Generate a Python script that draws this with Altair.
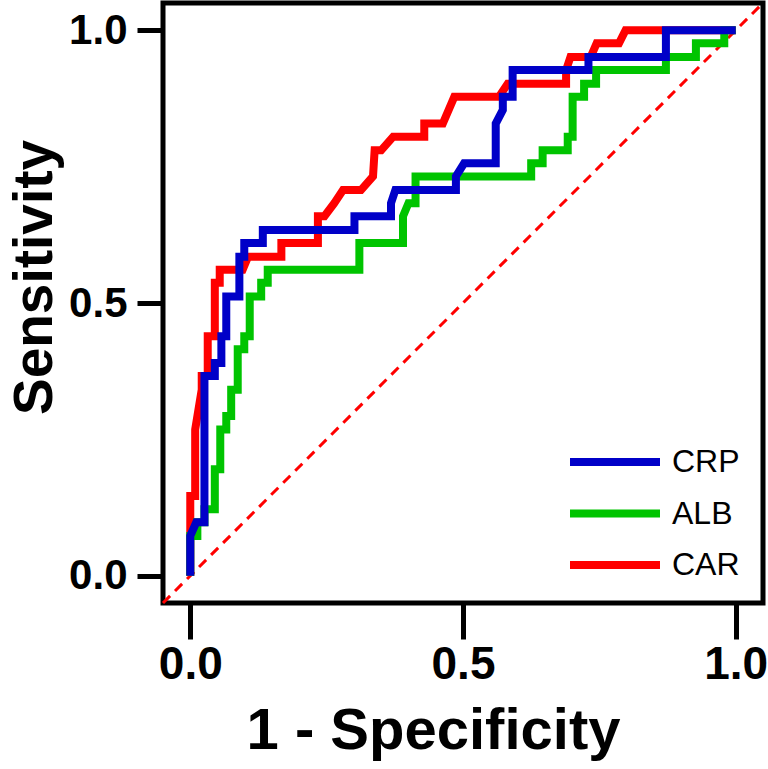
import altair as alt
import pandas as pd

# ROC curve vertices (1 - specificity, sensitivity) for each marker
crp_fpr = [0.0, 0.0, 0.011, 0.026, 0.026, 0.045, 0.045, 0.057, 0.057, 0.066, 0.066, 0.090,
           0.090, 0.099, 0.099, 0.133, 0.133, 0.301, 0.301, 0.368, 0.368, 0.376, 0.487,
           0.487, 0.502, 0.560, 0.560, 0.573, 0.573, 0.591, 0.591, 0.730, 0.730, 0.872,
           0.872, 1.0]
crp_tpr = [0.0, 0.073, 0.098, 0.098, 0.366, 0.366, 0.390, 0.390, 0.439, 0.439, 0.512, 0.512,
           0.585, 0.585, 0.610, 0.610, 0.634, 0.634, 0.659, 0.659, 0.683, 0.707, 0.707,
           0.732, 0.756, 0.756, 0.829, 0.854, 0.878, 0.878, 0.927, 0.927, 0.951, 0.951,
           1.0, 1.0]

alb_fpr = [0.0, 0.0, 0.013, 0.013, 0.026, 0.026, 0.045, 0.045, 0.055, 0.055, 0.066, 0.066,
           0.075, 0.075, 0.087, 0.087, 0.099, 0.099, 0.109, 0.109, 0.130, 0.130, 0.142,
           0.142, 0.310, 0.310, 0.390, 0.390, 0.400, 0.413, 0.413, 0.625, 0.625, 0.646,
           0.646, 0.692, 0.692, 0.701, 0.701, 0.722, 0.722, 0.744, 0.744, 0.872, 0.872,
           0.927, 0.927, 0.979, 0.979, 1.0]
alb_tpr = [0.0, 0.073, 0.073, 0.098, 0.098, 0.122, 0.122, 0.195, 0.195, 0.268, 0.268, 0.293,
           0.293, 0.341, 0.341, 0.415, 0.415, 0.439, 0.439, 0.512, 0.512, 0.537, 0.537,
           0.561, 0.561, 0.610, 0.610, 0.659, 0.683, 0.683, 0.732, 0.732, 0.756, 0.756,
           0.780, 0.780, 0.805, 0.805, 0.878, 0.878, 0.902, 0.902, 0.927, 0.927, 0.951,
           0.951, 0.976, 0.976, 1.0, 1.0]

car_fpr = [0.0, 0.0, 0.009, 0.009, 0.021, 0.021, 0.032, 0.032, 0.045, 0.045, 0.054, 0.054,
           0.096, 0.106, 0.167, 0.167, 0.234, 0.234, 0.246, 0.264, 0.280, 0.313, 0.335,
           0.338, 0.350, 0.372, 0.429, 0.429, 0.463, 0.484, 0.566, 0.582, 0.689, 0.689,
           0.697, 0.734, 0.745, 0.786, 0.798, 1.0]
car_tpr = [0.0, 0.146, 0.146, 0.268, 0.341, 0.366, 0.366, 0.439, 0.439, 0.537, 0.537, 0.561,
           0.561, 0.585, 0.585, 0.610, 0.610, 0.659, 0.659, 0.683, 0.707, 0.707, 0.732,
           0.780, 0.780, 0.805, 0.805, 0.829, 0.829, 0.878, 0.878, 0.902, 0.902, 0.927,
           0.951, 0.951, 0.976, 0.976, 1.0, 1.0]

series_names = ["CRP", "ALB", "CAR"]
series_colors = ["#0000C8", "#00C400", "#FF0000"]
axis_ticks = [0.0, 0.5, 1.0]
reference_line = [-0.05, 1.05]

frames = []
for name, fpr, tpr in [("CRP", crp_fpr, crp_tpr), ("ALB", alb_fpr, alb_tpr), ("CAR", car_fpr, car_tpr)]:
    frames.append(pd.DataFrame({"series": name, "fpr": fpr, "tpr": tpr, "step": range(len(fpr))}))
curves = pd.concat(frames, ignore_index=True)
diag = pd.DataFrame({"fpr": reference_line, "tpr": reference_line})

FONT = "Liberation Sans"
x_scale = alt.Scale(domain=[-0.05, 1.05], nice=False, zero=False)
y_scale = alt.Scale(domain=[-0.05, 1.05], nice=False, zero=False)

x_axis = alt.Axis(
    values=axis_ticks, format=".1f", title="1 - Specificity", grid=False, domain=False,
    tickSize=36, tickWidth=5, tickColor="black", labelFont=FONT, labelFontSize=46,
    labelFontWeight="bold", labelColor="black", labelPadding=3, titleFont=FONT,
    titleFontSize=58, titleFontWeight="bold", titleColor="black", titleX=270, titleY=145,
    titleBaseline="alphabetic", titleAlign="center",
)
y_axis = alt.Axis(
    values=axis_ticks, format=".1f", title="Sensitivity", grid=False, domain=False,
    tickSize=26, tickWidth=5, tickColor="black", labelFont=FONT, labelFontSize=42,
    labelFontWeight="bold", labelColor="black", labelPadding=10, titleFont=FONT,
    titleFontSize=55, titleFontWeight="bold", titleColor="black", titleX=-155, titleY=274,
    titleAngle=-90, titleBaseline="top", titleAlign="center",
)

chance = alt.Chart(diag).mark_line(color="#FF0000", strokeWidth=3, strokeDash=[10, 7]).encode(
    x=alt.X("fpr:Q", scale=x_scale, axis=x_axis),
    y=alt.Y("tpr:Q", scale=y_scale, axis=y_axis),
)

color = alt.Color(
    "series:N",
    scale=alt.Scale(domain=series_names, range=series_colors),
    legend=alt.Legend(
        title=None, orient="none", legendX=433, legendY=440, padding=0,
        symbolType="M-3,0H3", symbolSize=900, symbolStrokeWidth=8, labelOffset=38,
        labelFont=FONT, labelFontSize=32, labelColor="black", rowPadding=16.5,
    ),
)

base = alt.Chart(curves).mark_line(strokeWidth=8, strokeJoin="miter").encode(
    x=alt.X("fpr:Q", scale=x_scale, axis=x_axis),
    y=alt.Y("tpr:Q", scale=y_scale, axis=y_axis),
    color=color,
    order="step:Q",
)

# red drawn first, blue on top
layers = [base.transform_filter(alt.datum.series == s) for s in ["CAR", "ALB", "CRP"]]

chart = alt.layer(chance, *layers).properties(
    width=600, height=600,
    padding={"left": 163, "top": 3, "right": 5, "bottom": 166},
    autosize=alt.AutoSizeParams(type="none"),
).configure_view(stroke="black", strokeWidth=5)

chart.save("out.html", embed_options={"renderer": "svg", "actions": False})
